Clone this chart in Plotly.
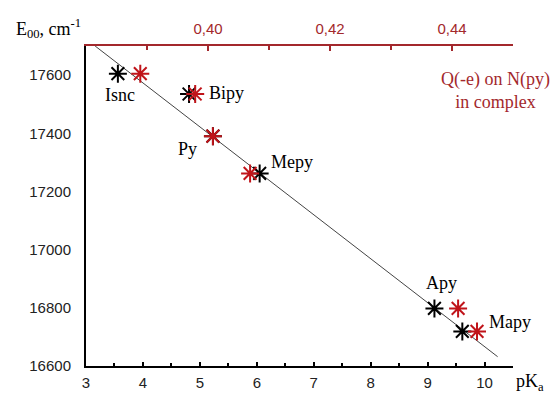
import plotly.graph_objects as go

# Data
names = ["Isnc", "Bipy", "Py", "Mepy", "Apy", "Mapy"]
pka = [3.56, 4.81, 5.23, 6.05, 9.12, 9.61]
charge_q = [0.3889, 0.3979, 0.4008, 0.4069, 0.4410, 0.4441]
e00 = [17605, 17535, 17390, 17262, 16798, 16719]
fit_pka = [3.16, 10.23]
fit_e00 = [17700, 16632]

# label positions (data coords)
lab_x = [3.6, 5.12, 4.79, 6.22, 9.24, 10.05]
lab_y = [17530, 17537, 17346, 17302, 16887, 16751]
lab_anchor = ["center", "left", "center", "left", "center", "left"]

bottom_ticks = [3, 4, 5, 6, 7, 8, 9, 10]
top_ticks = [0.40, 0.42, 0.44]
top_tick_text = ["0,40", "0,42", "0,44"]
left_ticks = [16600, 16800, 17000, 17200, 17400, 17600]
left_tick_text = ["16600", "16800", "17000", "17200", "17400", "17600"]

RED = "#c0141a"
DARKRED = "#a3282c"
SERIF = "Liberation Serif"
SANS = "Liberation Sans"

fig = go.Figure()
fig.add_trace(go.Scatter(x=fit_pka, y=fit_e00, mode="lines",
                         line=dict(color="#444444", width=1), showlegend=False, hoverinfo="skip"))
fig.add_trace(go.Scatter(x=charge_q, y=e00, mode="markers", xaxis="x2",
                         marker=dict(symbol="asterisk-open", size=15, color=RED,
                                     line=dict(color=RED, width=2)),
                         showlegend=False))
fig.add_trace(go.Scatter(x=pka, y=e00, mode="markers",
                         marker=dict(symbol="asterisk-open", size=15, color="black",
                                     line=dict(color="black", width=2)),
                         showlegend=False))

for n, x, y, a in zip(names, lab_x, lab_y, lab_anchor):
    fig.add_annotation(x=x, y=y, xref="x", yref="y", text=n, showarrow=False,
                       xanchor=a, yanchor="middle",
                       font=dict(family=SERIF, size=18, color="black"))

# plot area in page pixels: x 86..513, y 43..366
def px(x):
    return (x - 86) / 427

def py(y):
    return (366 - y) / 323

fig.add_annotation(x=px(14), y=py(25), xref="paper", yref="paper",
                   text="E<sub>00</sub>, cm<sup>-1</sup>", showarrow=False,
                   xanchor="left", yanchor="middle",
                   font=dict(family=SERIF, size=18, color="black"))
fig.add_annotation(x=px(552), y=py(88), xref="paper", yref="paper",
                   text="Q(-e) on N(py)<br>in complex", showarrow=False,
                   xanchor="right", yanchor="middle", align="center",
                   font=dict(family=SERIF, size=18, color=DARKRED))
fig.add_annotation(x=px(514), y=py(383), xref="paper", yref="paper",
                   text="pK<sub>a</sub>", showarrow=False,
                   xanchor="left", yanchor="middle",
                   font=dict(family=SERIF, size=18, color="black"))

fig.update_layout(
    width=559, height=396,
    margin=dict(l=78, r=54, t=35, b=38),
    paper_bgcolor="white", plot_bgcolor="white",
    xaxis=dict(range=[3, 10.5], tickvals=bottom_ticks, showgrid=False, zeroline=False,
               showline=True, linecolor="black", linewidth=1.5,
               ticks="inside", ticklen=4, tickcolor="black", tickwidth=1.5,
               minor=dict(dtick=0.5, tick0=3, ticks="inside", ticklen=3, tickcolor="black"),
               tickfont=dict(family=SANS, size=15, color="#222"), ticklabelstandoff=2),
    xaxis2=dict(range=[0.38, 0.45], overlaying="x", side="top", tickvals=top_ticks,
                ticktext=top_tick_text, showgrid=False, zeroline=False,
                showline=True, linecolor=DARKRED, linewidth=1.5,
                ticks="inside", ticklen=5, tickcolor=DARKRED, tickwidth=1.5,
                minor=dict(dtick=0.01, tick0=0.38, ticks="inside", ticklen=4, tickcolor=DARKRED),
                tickfont=dict(family=SANS, size=15, color=DARKRED), ticklabelstandoff=4),
    yaxis=dict(range=[16600, 17700], tickvals=left_ticks, ticktext=left_tick_text,
               showgrid=False, zeroline=False,
               showline=True, linecolor="black", linewidth=2, ticks="",
               tickfont=dict(family=SANS, size=15, color="#222"), ticklabelstandoff=10),
)

fig.write_html("out.html")
